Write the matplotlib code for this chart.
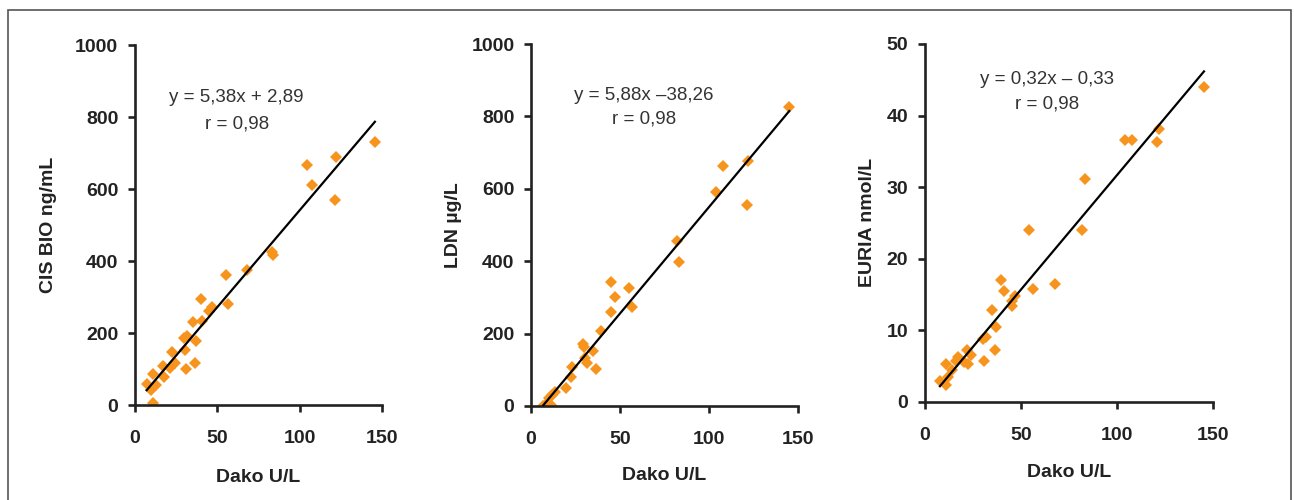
import matplotlib
matplotlib.use('Agg')
import matplotlib.pyplot as plt
import numpy as np
from matplotlib.patches import Rectangle

plt.rcParams['font.family'] = ['Liberation Sans', 'DejaVu Sans']

# values
dako_cis = [145.7, 121.9, 104.7, 107.7, 121.3, 83.0, 83.6, 67.8, 55.3, 56.7, 40.1, 46.6,
            44.9, 40.5, 35.4, 31.4, 29.8, 37.0, 30.4, 22.3, 31.0, 36.4, 24.3, 21.3, 17.2,
            17.6, 11.1, 12.8, 7.1, 9.5, 11.1]
cis = [731, 690, 667, 610, 569, 426, 416, 375, 361, 280, 295, 271,
       261, 234, 231, 192, 185, 178, 153, 148, 99, 116, 116, 102, 108,
       77, 86, 56, 58, 42, 5]

dako_ldn = [145.1, 121.7, 108.0, 103.9, 121.2, 82.2, 83.3, 44.8, 55.1, 47.2, 56.7, 44.9,
            39.5, 29.4, 30.0, 35.0, 30.3, 31.3, 36.5, 23.2, 22.3, 19.7, 13.5, 11.6, 10.1,
            8.8, 6.9, 11.6, 10.1]
ldn = [827, 678, 663, 590, 555, 457, 399, 343, 325, 302, 273, 261,
       207, 170, 162, 153, 132, 118, 102, 107, 81, 51, 40, 30, 21,
       9, 0, 0, 0]

dako_euria = [145.3, 121.9, 121.0, 104.2, 107.6, 83.2, 81.9, 54.3, 67.7, 56.4, 39.8, 41.1,
              46.9, 45.1, 45.1, 34.7, 37.0, 30.4, 31.8, 36.5, 30.9, 21.7, 23.8, 17.4,
              16.1, 20.5, 22.6, 10.9, 13.9, 12.2, 7.8, 10.9]
euria = [44.0, 38.1, 36.3, 36.6, 36.6, 31.1, 24.0, 24.0, 16.5, 15.8, 17.0, 15.5,
         14.8, 14.1, 13.4, 12.8, 10.4, 8.7, 9.1, 7.2, 5.7, 7.2, 6.5, 6.3,
         5.7, 5.5, 5.2, 5.2, 4.4, 3.5, 2.9, 2.3]

slopes = [5.38, 5.88, 0.32]
intercepts = [2.89, -38.26, -0.33]
equations = ['y = 5,38x + 2,89', 'y = 5,88x \u201338,26', 'y = 0,32x \u2013 0,33']
r_text = 'r = 0,98'
ylabels = ['CIS BIO ng/mL', 'LDN \u00b5g/L', 'EURIA nmol/L']
ymaxes = [1000, 1000, 50]
ysteps = [200, 200, 10]

xs = [dako_cis, dako_ldn, dako_euria]
ys = [cis, ldn, euria]

# layout (figure fractions) and text spots
rects = [[0.1043, 0.190, 0.1909, 0.720],
         [0.4104, 0.188, 0.2063, 0.724],
         [0.7148, 0.1966, 0.2226, 0.7154]]
eq_pos = [(61.8, 853, 780), (63.5, 857, 793), (63.4, 45.1, 41.6)]
ylab_x = [-0.348, -0.292, -0.198]
xlab_y = [-0.20, -0.193, -0.198]

orange = '#F7941D'
dark = '#222222'

fig = plt.figure(figsize=(12.94, 5), dpi=100)

for i in range(3):
    ax = fig.add_axes(rects[i])
    x = np.array(xs[i])
    y = np.array(ys[i])
    ax.plot(x, y, 'D', color=orange, markersize=6.5, markeredgewidth=0, zorder=2)
    xl = np.array([x.min(), x.max()])
    ax.plot(xl, slopes[i] * xl + intercepts[i], color='black', lw=1.6, zorder=3)

    ax.set_xlim(0, 150)
    ax.set_ylim(0, ymaxes[i])
    ax.set_xticks([0, 50, 100, 150])
    ax.set_yticks(np.arange(0, ymaxes[i] + 1, ysteps[i]))
    for s in ['top', 'right']:
        ax.spines[s].set_visible(False)
    for s in ['left', 'bottom']:
        ax.spines[s].set_linewidth(1.9)
        ax.spines[s].set_color(dark)
    ax.tick_params(axis='both', direction='out', length=5, width=1.9, color=dark,
                   labelsize=14, labelcolor=dark)
    ax.tick_params(axis='x', pad=13)
    ax.tick_params(axis='y', pad=7)
    for lab in ax.get_xticklabels() + ax.get_yticklabels():
        lab.set_fontweight('bold')

    ax.set_xlabel('Dako U/L', fontsize=14, fontweight='bold', color=dark, va='center')
    ax.xaxis.set_label_coords(0.5, xlab_y[i])
    ax.set_ylabel(ylabels[i], fontsize=14, fontweight='bold', color=dark, va='center')
    ax.yaxis.set_label_coords(ylab_x[i], 0.5)

    ex, ey, ry = eq_pos[i]
    ax.text(ex, ey, equations[i], fontsize=13.5, color='#333333', ha='center', va='center')
    ax.text(ex, ry, r_text, fontsize=13.5, color='#333333', ha='center', va='center')

# thin frame around the figure
frame = Rectangle((8 / 1294, -0.02), 1283 / 1294, 1.02 - 10 / 500, transform=fig.transFigure,
                  fill=False, edgecolor='#555555', lw=1.2)
fig.patches.append(frame)

fig.savefig('out.png', dpi=100)
